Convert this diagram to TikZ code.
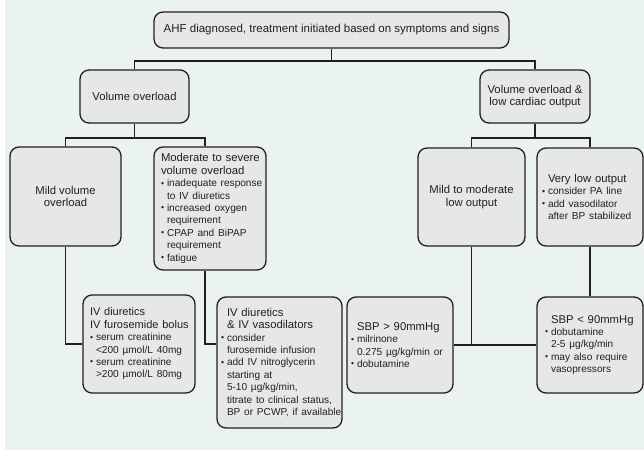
\documentclass[tikz,border=0pt]{standalone}
\usepackage{graphicx}
\usepackage{fontspec}
\setmainfont{Liberation Sans}

\definecolor{panel}{HTML}{EAF3F2}
\definecolor{boxfill}{HTML}{E6E7E8}
\definecolor{ink}{HTML}{231F20}

\newcommand{\hd}{\fontsize{11.3}{12.4}\selectfont}
\newcommand{\sm}{\fontsize{10.1}{12.4}\selectfont}
\newcommand{\fl}{\hyphenpenalty=10000\rightskip=0pt plus 1fil minus 60pt\relax}
\newcommand{\bul}{\makebox[6pt][l]{\raisebox{0.6pt}{\scalebox{0.85}{\textbullet}}}}
\newcommand{\hbul}{\leavevmode\llap{\bul}}
\newcommand{\ind}{\hspace*{6pt}}

\begin{document}
\begin{tikzpicture}[x=1pt, y=-1pt,
    box/.style={draw=ink, fill=boxfill, text=ink, line width=1.3pt,
        rounded corners=9pt, inner sep=0pt, font=\hd},
    link/.style={draw=ink, line width=1.3pt}]

    \useasboundingbox (0,0) rectangle (644,454);
    \fill[panel] (5,0) rectangle (644,450);

    \coordinate (r1) at (0,61);
    \coordinate (r2) at (0,138);
    \coordinate (r3) at (0,344);

    \node[box, minimum width=355pt, minimum height=36pt, font=\fontsize{11.5}{12.4}\selectfont] (top) at (331.5,30)
        {AHF diagnosed, treatment initiated based on symptoms and signs};

    \node[box, minimum width=109pt, minimum height=53pt] (vo) at (134.5,96.5)
        {Volume overload};
    \node[box, minimum width=110pt, minimum height=53pt, align=center] (volc) at (535,96.5)
        {Volume overload \&\\low cardiac output};

    \node[box, minimum width=111pt, minimum height=99pt, align=center] (mild) at (65.5,196.5)
        {Mild volume\\overload};
    \node[box, minimum width=112pt, minimum height=123pt, text width=98pt, align=left] (mod) at (210,208.5)
        {\fl Moderate to severe\\volume overload\\\sm
         \bul inadequate response\\\ind to IV diuretics\\
         \bul increased oxygen\\\ind requirement\\
         \bul CPAP and BiPAP\\\ind requirement\\
         \bul fatigue\par};
    \node[box, minimum width=107pt, minimum height=98pt, align=center] (mtm) at (471.5,197)
        {Mild to moderate\\low output};
    \node[box, minimum width=106pt, minimum height=98pt, text width=96pt, align=left] (vlo) at (590,197)
        {\fl\ind Very low output\\\sm
         \bul consider PA line\\
         \bul add vasodilator\\\ind after BP stabilized\par};

    \node[box, minimum width=112pt, minimum height=98pt, text width=98pt, align=left] (ivd) at (139,344)
        {\fl\fontsize{11}{12.4}\selectfont IV diuretics\\IV furosemide bolus\\\sm
         \bul serum creatinine\\\ind <200 µmol/L 40mg\\
         \bul serum creatinine\\\ind >200 µmol/L 80mg\par};
    \node[box, minimum width=125pt, minimum height=131pt, text width=105pt, align=left] (ivv) at (279.5,362.5)
        {\fl IV diuretics\\\& IV vasodilators\\\sm
         \hbul consider\\furosemide infusion\\
         \hbul add IV nitroglycerin\\starting at\\5-10 µg/kg/min,\\
         titrate to clinical status,\\BP or PCWP, if available\par};
    \node[box, minimum width=106pt, minimum height=96pt, text width=98pt, align=left] (sbph) at (400,345)
        {\fl\ind SBP > 90mmHg\\\sm
         \bul milrinone\\\ind 0.275 µg/kg/min or\\
         \bul dobutamine\par};
    \node[box, minimum width=106pt, minimum height=96pt, text width=90pt, align=left] (sbpl) at (590,345)
        {\fl\ind SBP < 90mmHg\\\sm
         \bul dobutamine\\\ind 2-5 µg/kg/min\\
         \bul may also require\\\ind vasopressors\par};

    \draw[link] (top.south) -- (top.south |- r1);
    \draw[link] (vo.north) -- (vo.north |- r1) -| (volc.north);

    \draw[link] (vo.south) -- (vo.south |- r2);
    \draw[link] (mild.north) -- (mild.north |- r2) -| ([xshift=-5pt]mod.north);
    \draw[link] (volc.south) -- (volc.south |- r2);
    \draw[link] (mtm.north) -- (mtm.north |- r2) -| (vlo.north);

    \draw[link] (mild.south) |- (ivd.west);
    \draw[link] ([xshift=-5pt]mod.south) |- (ivv.west |- r3);
    \draw[link] (mtm.south) -- (mtm.south |- r3);
    \draw[link] (sbph.east) -- (sbpl.west);
    \draw[link] (vlo.south) -- (sbpl.north);
\end{tikzpicture}
\end{document}
